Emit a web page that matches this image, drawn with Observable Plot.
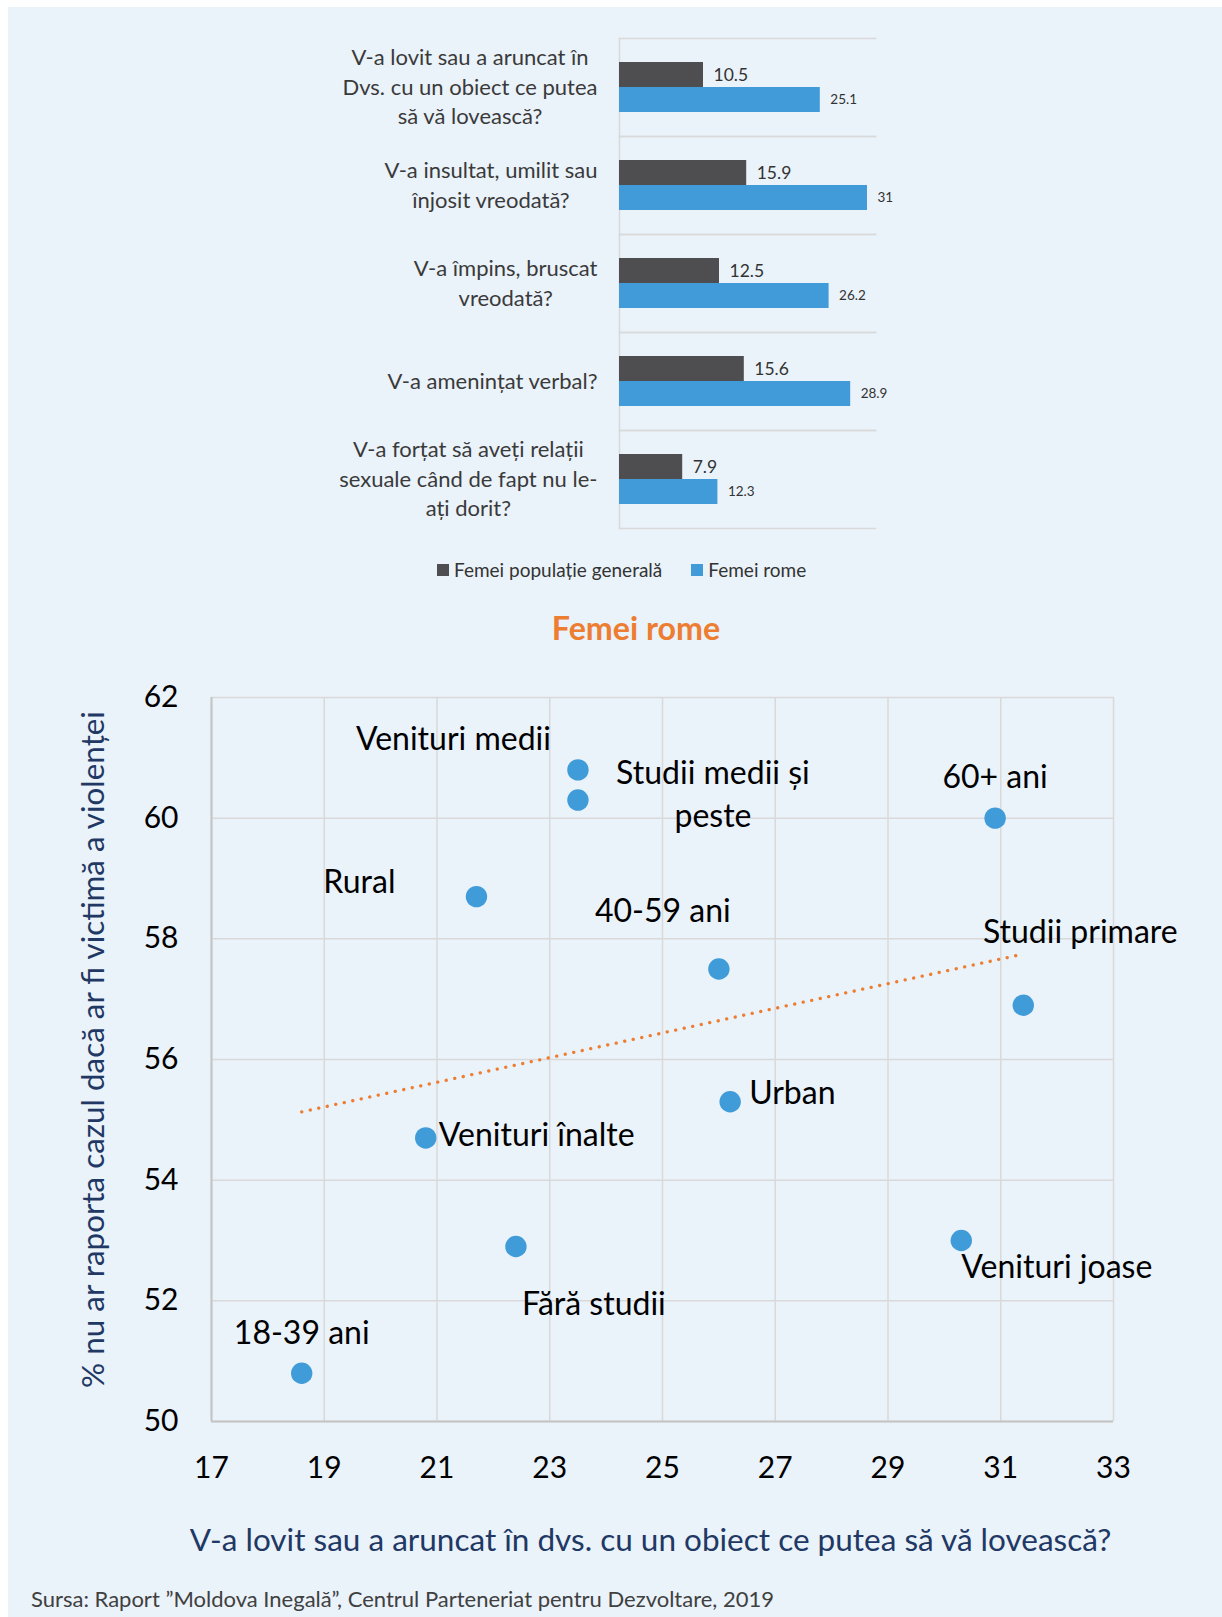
<!DOCTYPE html>
<html><head><meta charset="utf-8">
<script src="https://cdn.jsdelivr.net/npm/d3@7"></script>
<script src="https://cdn.jsdelivr.net/npm/@observablehq/plot@0.6"></script>
<style>
html,body{margin:0;padding:0;background:#fff;}
body{width:1222px;height:1617px;position:relative;overflow:hidden;font-family:Lato,sans-serif;}
#panel{position:absolute;left:8px;top:7px;width:1214px;height:1610px;background:#eaf2fa;}
.abs{position:absolute;}
#title{left:436px;top:612px;width:400px;text-align:center;font:bold 32.2px Lato;color:#ed7d31;line-height:31px;}
#source{left:31px;top:1588px;font:22px Lato;line-height:22px;color:#404040;white-space:nowrap;}
#legend{left:437px;top:553px;width:500px;}
#legend .lg-swatches{font-family:Lato,sans-serif !important;font-size:19px !important;color:#333 !important;margin:0 !important;}
#legend .lg-swatch{margin-right:29px !important;}
#legend .lg-swatch > svg{margin-right:5px !important;}
</style></head>
<body>
<div id="panel"></div>
<div id="bars" class="abs" style="left:300px;top:20px;width:600px;"></div>
<div id="legend" class="abs"></div>
<div id="title" class="abs">Femei rome</div>
<div id="scatter" class="abs" style="left:0;top:640px;width:1222px;"></div>
<div id="source" class="abs">Sursa: Raport ”Moldova Inegală”, Centrul Parteneriat pentru Dezvoltare, 2019</div>
<script>
// ---------- Bar chart data ----------
const categories = [
  "V-a lovit sau a aruncat în\nDvs. cu un obiect ce putea\nsă vă lovească?",
  "V-a insultat, umilit sau\nînjosit vreodată?",
  "V-a împins, bruscat\nvreodată?",
  "V-a amenințat verbal?",
  "V-a forțat să aveți relații\nsexuale când de fapt nu le-\nați dorit?"
];
const series = ["Femei populație generală", "Femei rome"];
const seriesColors = ["#4e4e50", "#419bd8"];
const valuesGeneral = [10.5, 15.9, 12.5, 15.6, 7.9];
const valuesRome = [25.1, 31, 26.2, 28.9, 12.3];

// ---------- Scatter data ----------
const pointLabels = ["Venituri medii", "Studii medii și\npeste", "60+ ani", "Rural", "40-59 ani",
  "Studii primare", "Urban", "Venituri înalte", "Fără studii", "Venituri joase", "18-39 ani"];
const pointX = [23.5, 23.5, 30.9, 21.7, 26.0, 31.4, 26.2, 20.8, 22.4, 30.3, 18.6];
const pointY = [60.8, 60.3, 60.0, 58.7, 57.5, 56.9, 55.3, 54.7, 52.9, 53.0, 50.8];
const xTicks = [17, 19, 21, 23, 25, 27, 29, 31, 33];
const yTicks = [50, 52, 54, 56, 58, 60, 62];
const xTitle = "V-a lovit sau a aruncat în dvs. cu un obiect ce putea să vă lovească?";
const yTitle = "% nu ar raporta cazul dacă ar fi victimă a violenței";

// ---------- Bar chart ----------
const barData = categories.flatMap((c, i) => [
  {category: c, series: series[0], value: valuesGeneral[i]},
  {category: c, series: series[1], value: valuesRome[i]}
]);
const grid = {stroke: "#d9d9d9", strokeWidth: 1.5, strokeOpacity: 1};
const bars = Plot.plot({
  width: 600, height: 530,
  marginLeft: 319, marginRight: 25, marginTop: 17, marginBottom: 21,
  style: {background: "transparent", fontFamily: "Lato, sans-serif", overflow: "visible"},
  x: {domain: [0, 32], axis: null},
  fy: {domain: categories, padding: 0},
  y: {domain: series, paddingInner: 0, paddingOuter: 0.945, axis: null},
  color: {domain: series, range: seriesColors},
  marks: [
    Plot.frame({anchor: "top", ...grid}),
    Plot.frame({anchor: "bottom", ...grid}),
    Plot.ruleX([0], grid),
    Plot.barX(barData, {fy: "category", y: "series", x: "value", fill: "series"}),
    Plot.text(barData.filter(d => d.series === series[0]), {fy: "category", y: "series", x: "value",
      text: d => String(d.value), dx: 10, textAnchor: "start", fontSize: 17.5, fill: "#333"}),
    Plot.text(barData.filter(d => d.series === series[1]), {fy: "category", y: "series", x: "value",
      text: d => String(d.value), dx: 10, textAnchor: "start", fontSize: 13.5, fill: "#333"}),
    Plot.axisFy({anchor: "left", tickSize: 0, tickPadding: 22, fontSize: 22, lineHeight: 1.34,
      dy: -2, fill: "#3a3a3a", label: null})
  ]
});
document.getElementById("bars").appendChild(bars);
// center wrapped lines within their right-aligned block
bars.querySelectorAll('g[aria-label="fy-axis tick label"] text').forEach(t => {
  const spans = t.querySelectorAll("tspan");
  if (spans.length < 2) return;
  let w = 0;
  spans.forEach(s => { w = Math.max(w, s.getComputedTextLength()); });
  t.style.textAnchor = "middle";
  spans.forEach(s => s.setAttribute("x", -w / 2));
});

// ---------- Legend ----------
const legend = Plot.legend({color: {domain: series, range: seriesColors}, legend: "swatches",
  swatchSize: 12, className: "lg"});
document.getElementById("legend").appendChild(legend);

// ---------- Scatter ----------
const points = pointLabels.map((label, i) => ({label, x: pointX[i], y: pointY[i]}));
const labelStyle = {
  "Venituri medii": {dx: -27, dy: -33, textAnchor: "end"},
  "Studii medii și\npeste": {dx: 135, dy: -8, textAnchor: "middle"},
  "60+ ani": {dx: 0, dy: -44, textAnchor: "middle"},
  "Rural": {dx: -81, dy: -17, textAnchor: "end"},
  "40-59 ani": {dx: -56, dy: -61, textAnchor: "middle"},
  "Studii primare": {dx: 57, dy: -76, textAnchor: "middle"},
  "Urban": {dx: 19, dy: -11, textAnchor: "start"},
  "Venituri înalte": {dx: 13, dy: -5, textAnchor: "start"},
  "Fără studii": {dx: 78, dy: 55, textAnchor: "middle"},
  "Venituri joase": {dx: 0, dy: 24, textAnchor: "start"},
  "18-39 ani": {dx: 0, dy: -43, textAnchor: "middle"}
};
const scatter = Plot.plot({
  width: 1222, height: 920,
  marginLeft: 211, marginRight: 109, marginTop: 57, marginBottom: 139,
  style: {background: "transparent", fontFamily: "Lato, sans-serif", overflow: "visible", color: "#000"},
  x: {domain: [17, 33]},
  y: {domain: [50, 62]},
  marks: [
    Plot.gridX(xTicks, grid),
    Plot.gridY(yTicks, grid),
    Plot.ruleX([17], {stroke: "#c4c4c4", strokeWidth: 2}),
    Plot.ruleY([50], {stroke: "#c4c4c4", strokeWidth: 2}),
    Plot.axisX(xTicks, {tickSize: 0, tickPadding: 35, fontSize: 30, fill: "#000", label: null,
      tickFormat: d => String(d)}),
    Plot.axisY(yTicks, {tickSize: 0, tickPadding: 33, fontSize: 30, fill: "#000", label: null,
      tickFormat: d => String(d)}),
    Plot.text([xTitle], {frameAnchor: "bottom", textAnchor: "middle", dy: 129, dx: -12,
      fontSize: 31.5, fill: "#1f3864"}),
    Plot.text([yTitle], {frameAnchor: "left", textAnchor: "middle", rotate: -90, dx: -118, dy: -10,
      fontSize: 31.4, fill: "#1f3864"}),
    Plot.linearRegressionY(points, {x: "x", y: "y", ci: 0, stroke: "#ed7d31", strokeWidth: 3.3,
      strokeDasharray: "0.1 8.6", strokeLinecap: "round"}),
    Plot.dot(points, {x: "x", y: "y", r: 10.7, fill: "#409cd9"}),
    ...points.map(p => Plot.text([p], {x: "x", y: "y", text: "label", fontSize: 32, fill: "#000",
      lineHeight: 1.32, ...labelStyle[p.label]}))
  ]
});
document.getElementById("scatter").appendChild(scatter);
</script>
</body></html>
